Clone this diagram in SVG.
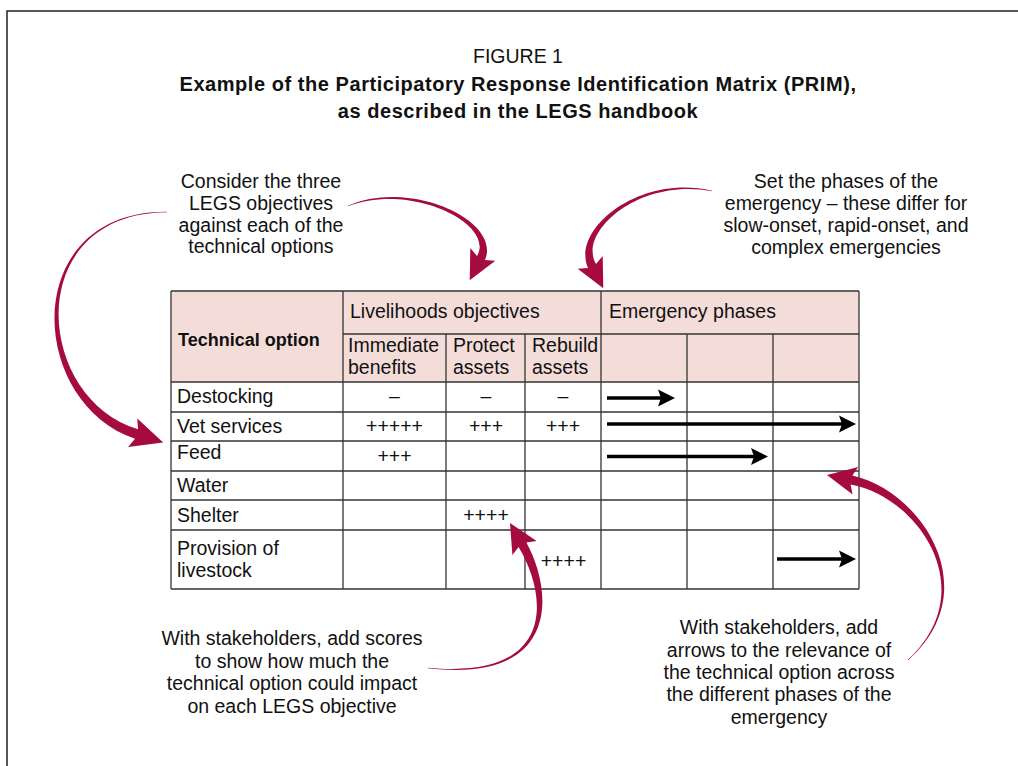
<svg xmlns="http://www.w3.org/2000/svg" width="1018" height="766" viewBox="0 0 1018 766">
<defs>
<style>
text{font-family:"Liberation Sans",Arial,sans-serif;fill:#111;}
.t{font-size:19.5px;}
.h{font-size:20px;font-weight:bold;letter-spacing:0.55px;}
.c{text-anchor:middle;}
.grid line{stroke:#333;stroke-width:1.3;}
.blk{stroke:#000;stroke-width:3.5;fill:none;marker-end:url(#ah);}
.red{fill:#a50c3d;}
</style>
<marker id="ah" markerUnits="userSpaceOnUse" markerWidth="18" markerHeight="18" viewBox="0 0 18 18" refX="6" refY="9" orient="auto">
<path d="M0,0.5 L17,9 L0,17.5 L3,9 Z" fill="#000"/>
</marker>
</defs>
<rect width="1018" height="766" fill="#fff"/>
<path d="M7,766 V11 H1018" fill="none" stroke="#222" stroke-width="1.5"/>

<g id="title">
<text class="t c" x="518" y="63">FIGURE 1</text>
<text class="h c" x="518" y="91">Example of the Participatory Response Identification Matrix (PRIM),</text>
<text class="h c" x="518" y="118">as described in the LEGS handbook</text>
</g>

<g id="table">
<rect x="171" y="291" width="688" height="91" fill="#f4ddd9"/>
<g class="grid">
<line x1="171" y1="291" x2="859" y2="291"/>
<line x1="343" y1="334" x2="859" y2="334"/>
<line x1="171" y1="382" x2="859" y2="382"/>
<line x1="171" y1="412" x2="859" y2="412"/>
<line x1="171" y1="441" x2="859" y2="441"/>
<line x1="171" y1="471" x2="859" y2="471"/>
<line x1="171" y1="500" x2="859" y2="500"/>
<line x1="171" y1="530" x2="859" y2="530"/>
<line x1="171" y1="589" x2="859" y2="589"/>
<line x1="171" y1="291" x2="171" y2="589"/>
<line x1="343" y1="291" x2="343" y2="589"/>
<line x1="446" y1="334" x2="446" y2="589"/>
<line x1="525" y1="334" x2="525" y2="589"/>
<line x1="601" y1="291" x2="601" y2="589"/>
<line x1="687" y1="334" x2="687" y2="589"/>
<line x1="773" y1="334" x2="773" y2="589"/>
<line x1="859" y1="291" x2="859" y2="589"/>
</g>
<text x="178" y="346" style="font-size:18px;font-weight:bold">Technical option</text>
<text class="t" x="350" y="318">Livelihoods objectives</text>
<text class="t" x="609" y="318">Emergency phases</text>
<text class="t" x="348" y="352">Immediate</text>
<text class="t" x="348" y="374">benefits</text>
<text class="t" x="453" y="352">Protect</text>
<text class="t" x="453" y="374">assets</text>
<text class="t" x="532" y="352">Rebuild</text>
<text class="t" x="532" y="374">assets</text>
<text class="t" x="177" y="403">Destocking</text>
<text class="t" x="177" y="433">Vet services</text>
<text class="t" x="177" y="459">Feed</text>
<text class="t" x="177" y="492">Water</text>
<text class="t" x="177" y="522">Shelter</text>
<text class="t" x="177" y="555">Provision of</text>
<text class="t" x="177" y="577">livestock</text>
<text class="t c" x="394.5" y="403">–</text>
<text class="t c" x="486" y="403">–</text>
<text class="t c" x="563" y="403">–</text>
<text class="t c" x="394.5" y="433">+++++</text>
<text class="t c" x="486" y="433">+++</text>
<text class="t c" x="563" y="433">+++</text>
<text class="t c" x="394.5" y="463">+++</text>
<text class="t c" x="486" y="522">++++</text>
<text class="t c" x="563.5" y="568">++++</text>
</g>

<g id="phase-arrows">
<line class="blk" x1="607" y1="398" x2="664" y2="398"/>
<line class="blk" x1="607" y1="424" x2="845" y2="424"/>
<line class="blk" x1="607" y1="456.5" x2="757" y2="456.5"/>
<line class="blk" x1="777" y1="559" x2="845" y2="559"/>
</g>

<g id="note-objectives">
<text class="t c" x="261" y="188">Consider the three</text>
<text class="t c" x="261" y="210">LEGS objectives</text>
<text class="t c" x="261" y="232">against each of the</text>
<text class="t c" x="261" y="253">technical options</text>
</g>
<g id="note-phases">
<text class="t c" x="846" y="188">Set the phases of the</text>
<text class="t c" x="846" y="210">emergency – these differ for</text>
<text class="t c" x="846" y="232">slow-onset, rapid-onset, and</text>
<text class="t c" x="846" y="254">complex emergencies</text>
</g>
<g id="note-scores">
<text class="t c" x="292" y="645">With stakeholders, add scores</text>
<text class="t c" x="292" y="667.5">to show how much the</text>
<text class="t c" x="292" y="690">technical option could impact</text>
<text class="t c" x="292" y="712.5">on each LEGS objective</text>
</g>
<g id="note-arrows">
<text class="t c" x="779" y="634">With stakeholders, add</text>
<text class="t c" x="779" y="657">arrows to the relevance of</text>
<text class="t c" x="779" y="679">the technical option across</text>
<text class="t c" x="779" y="701">the different phases of the</text>
<text class="t c" x="779" y="724">emergency</text>
</g>

<g id="connectors">
<path class="red" d="M167,211.7 C18.3,211 26.8,402.4 135,438.8 L128.1,447.1 L163.2,442.5 L137.3,418.5 L138,429.2 C33.2,397.6 21.7,213 167,212.3 Z"/>
<path class="red" d="M347.9,205.7 C409.8,178.3 502,220.25 485,260 L495.3,260.7 L469.75,280.3 L470.3,248.1 L477,256 C496,223.75 410.2,181.7 348.1,206.3 Z"/>
<path class="red" d="M712.07,190.7 C639.8,173.3 570.85,228.9 588,268 L577.7,268.7 L603.25,288.3 L602.7,256.1 L596,264 C577.15,231.7 640.2,176.7 711.93,191.3 Z"/>
<path class="red" d="M428,668.3 C560.5,683.6 553.5,591.65 526.4,542.4 L536.6,541.1 L510,523 L512.4,555.1 L518.6,546.9 C546.5,592.65 559.5,680.4 428,667.7 Z"/>
<path class="red" d="M908.2,660.2 C986.7,590.5 922.5,491.5 852.4,475.6 L858.2,467.1 L827,475 L852.6,494.5 L850.6,484.4 C917.5,496.5 983.3,589.5 907.8,659.8 Z"/>
</g>
</svg>
